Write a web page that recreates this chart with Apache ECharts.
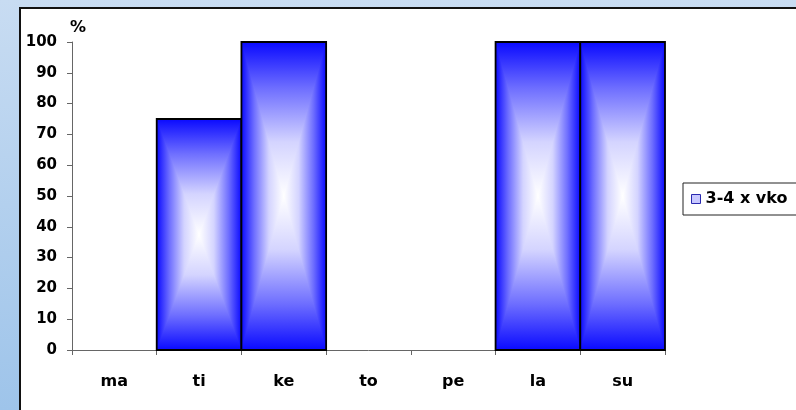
<!DOCTYPE html>
<html>
<head>
<meta charset="utf-8">
<script src="https://cdn.jsdelivr.net/npm/echarts@6/dist/echarts.min.js"></script>
<style>
  html, body { margin: 0; padding: 0; }
  #chart { width: 796px; height: 410px; }
</style>
</head>
<body>
<div id="chart"></div>
<script>
// Weekdays and share (%) of the "3-4 x vko" group
const days = ['ma', 'ti', 'ke', 'to', 'pe', 'la', 'su'];
const shares = [0, 75, 100, 0, 0, 100, 100];
const yTicks = { min: 0, max: 100, step: 10 };
const seriesName = '3-4 x vko';

const FONT = '"DejaVu Sans", "Liberation Sans", sans-serif';
// edge -> centre colour profile of the bar fill
const STOPS = [
  [0, '#0a0aff'],
  [0.3, '#6e6eff'],
  [0.65, '#d4d4ff'],
  [1, '#ffffff']
];

function grad(x, y, x2, y2) {
  return new echarts.graphic.LinearGradient(x, y, x2, y2,
    STOPS.map(s => ({ offset: s[0], color: s[1] })));
}

// mirrored profile: edge -> centre -> edge
function mirrored() {
  const first = STOPS.map(s => ({ offset: s[0] / 2, color: s[1] }));
  const second = STOPS.slice(0, -1).reverse().map(s => ({ offset: 1 - s[0] / 2, color: s[1] }));
  return new echarts.graphic.LinearGradient(0, 0, 0, 1, first.concat(second));
}

// Bar with a rectangular "from centre" gradient: blue at the edges, white in the middle
function renderBar(params, api) {
  const v = api.value(1);
  if (!v) return null;
  const base = api.coord([api.value(0), 0]);
  const top = api.coord([api.value(0), v]);
  const bw = api.size([1, 0])[0];
  const x0 = base[0] - bw / 2, x1 = base[0] + bw / 2;
  const y0 = top[1], y1 = base[1];
  const cx = base[0], cy = (y0 + y1) / 2;
  return {
    type: 'group',
    children: [
      { type: 'rect', shape: { x: x0, y: y0, width: bw, height: y1 - y0 }, style: { fill: mirrored() } },
      { type: 'polygon', shape: { points: [[x0, y0], [cx, cy], [x0, y1]] }, style: { fill: grad(0, 0, 1, 0) } },
      { type: 'polygon', shape: { points: [[x1, y0], [cx, cy], [x1, y1]] }, style: { fill: grad(1, 0, 0, 0) } },
      { type: 'rect', shape: { x: x0, y: y0, width: bw, height: y1 - y0 }, style: { fill: 'none', stroke: '#000', lineWidth: 1.8 } }
    ]
  };
}

const chart = echarts.init(document.getElementById('chart'), null, { renderer: 'canvas' });
chart.setOption({
  animation: false,
  backgroundColor: new echarts.graphic.LinearGradient(0, 0, 0, 1, [
    { offset: 0, color: '#c8dcf2' },
    { offset: 1, color: '#9ec4ea' }
  ]),
  graphic: [{
    type: 'rect', z: -10, silent: true,
    shape: { x: 20, y: 8, width: 820, height: 440 },
    style: { fill: '#ffffff', stroke: '#111', lineWidth: 2 }
  }],
  grid: { left: 72, top: 42, width: 593, height: 308, containLabel: false },
  legend: {
    left: 683, top: 183,
    padding: [8, 40, 8, 8],
    borderColor: '#222', borderWidth: 1, borderRadius: 0,
    backgroundColor: '#fff',
    itemWidth: 9, itemHeight: 9,
    textStyle: { fontFamily: FONT, fontWeight: 'bold', fontSize: 16, color: '#000' },
    data: [{ name: seriesName, icon: 'rect', itemStyle: { color: '#c8c8ff', borderColor: '#2a2ab0', borderWidth: 1 } }]
  },
  xAxis: {
    type: 'category',
    data: days,
    boundaryGap: true,
    axisLine: { lineStyle: { color: '#666', width: 1 } },
    axisTick: { show: true, length: 5, lineStyle: { color: '#666' } },
    axisLabel: { margin: 24, fontFamily: FONT, fontWeight: 'bold', fontSize: 16, color: '#000' },
    splitLine: { show: false }
  },
  yAxis: {
    type: 'value',
    min: yTicks.min, max: yTicks.max, interval: yTicks.step,
    name: '%',
    nameLocation: 'end',
    nameGap: 6,
    nameTextStyle: { fontFamily: FONT, fontWeight: 'bold', fontSize: 16, color: '#000', align: 'left', padding: [0, 0, 0, -2] },
    axisLine: { show: true, lineStyle: { color: '#666', width: 1 } },
    axisTick: { show: true, length: 5, lineStyle: { color: '#666' } },
    axisLabel: { margin: 15, fontFamily: FONT, fontWeight: 'bold', fontSize: 15, color: '#000' },
    splitLine: { show: false }
  },
  series: [{
    type: 'custom',
    name: seriesName,
    renderItem: renderBar,
    itemStyle: { color: '#c8c8ff' },
    encode: { x: 0, y: 1 },
    data: shares.map((v, i) => [i, v])
  }]
});
</script>
</body>
</html>
